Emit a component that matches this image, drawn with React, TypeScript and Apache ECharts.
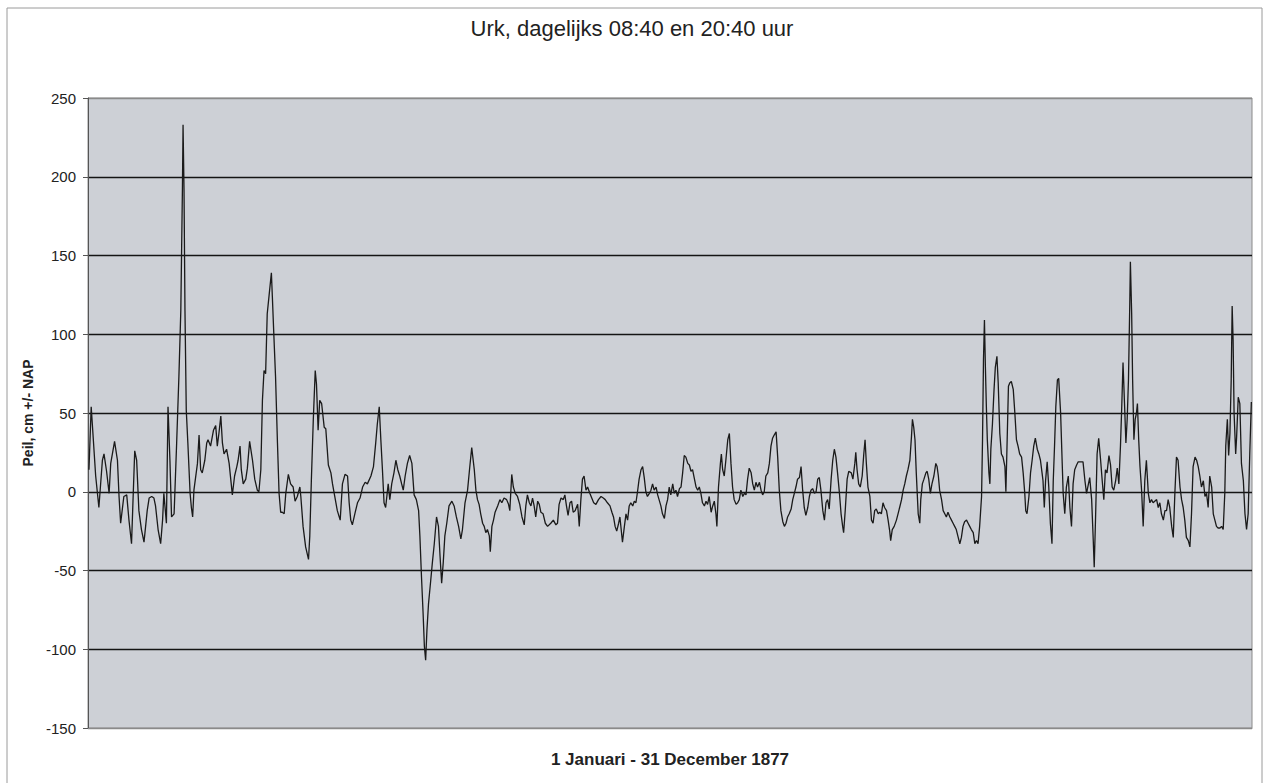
import React, { useEffect, useRef } from "react";
import * as echarts from "echarts";

const titleText = "Urk, dagelijks 08:40 en 20:40 uur";
const xAxisTitle = "1 Januari - 31 December 1877";
const yAxisTitle = "Peil, cm +/- NAP";
const yTicks = [-150, -100, -50, 0, 50, 100, 150, 200, 250];

// day of year (1877) of each read-off observation
const days = [
  1.0, 1.7, 3.1, 4.1, 5.2, 5.7, 6.5, 7.3, 7.8, 9.0, 9.9, 10.4, 10.9, 11.9, 12.8, 13.5, 14.3, 15.3, 15.9, 16.6,
  17.4, 18.2, 19.2, 19.8, 20.6, 21.3, 21.8, 22.6, 23.4, 24.0, 24.4, 25.2, 25.7, 26.3, 26.8, 27.6, 28.4, 29.1, 29.7, 30.2,
  30.4, 30.7, 31.0, 31.4, 31.9, 32.6, 33.0, 33.4, 33.8, 34.9, 35.4, 35.9, 36.4, 37.2, 37.8, 38.2, 39.0, 39.9, 40.6, 41.1,
  41.6, 42.2, 42.7, 43.2, 44.0, 44.8, 45.3, 45.8, 46.5, 47.2, 47.6, 48.2, 48.6, 49.2, 50.0, 50.5, 51.2, 52.1, 52.8, 53.6,
  54.1, 54.7, 55.2, 55.7, 56.2, 56.7, 57.3, 58.0, 58.3, 58.8, 59.3, 59.9, 60.4, 60.9,
  61.4, 62.0, 62.5, 63.3, 64.0, 64.8, 65.4, 66.1, 66.9, 67.2, 67.9, 68.7, 69.6, 70.0, 70.5, 71.1, 71.7, 72.1, 72.6, 73.1,
  73.7, 74.5, 75.0, 75.8, 76.6, 77.1, 77.8, 78.6, 79.5, 80.2, 81.0, 81.8, 82.3, 82.8, 83.3, 84.2, 84.9, 85.7, 86.5, 87.3,
  88.0, 89.1, 89.9, 90.6, 91.1, 91.7, 92.2, 92.7, 93.2, 93.7, 94.5, 95.0, 95.6, 96.3, 96.9, 97.5, 98.1, 98.7, 99.2, 99.8,
  100.5, 101.2, 101.9, 102.6, 103.3, 104.0, 104.4, 104.9, 105.4, 105.8, 106.2, 106.6, 107.1, 107.8, 108.3, 108.9, 109.6, 110.2, 110.7, 111.2,
  111.7, 112.2, 112.8, 113.5, 114.4, 115.1, 115.8, 116.5, 117.2, 117.7, 118.5, 119.3, 120.0,
  120.6, 121.4, 121.9, 122.4, 122.9, 123.4, 124.0, 124.5, 125.0, 125.5, 126.1, 126.4, 126.9, 127.4, 127.9, 128.7, 129.4, 130.0, 130.7, 131.5,
  132.1, 132.5, 133.1, 133.6, 134.2, 134.9, 135.6, 136.3, 137.0, 137.5, 138.0, 138.6, 139.1, 139.6, 140.1, 140.6, 141.2, 141.7, 142.2, 142.9,
  143.6, 144.3, 145.3, 146.1, 146.9, 147.4, 147.9, 148.5, 149.2, 149.7, 150.2, 150.7, 151.3, 151.8, 152.3, 152.9, 153.7, 154.2, 154.7, 155.2,
  155.7, 156.3, 156.8, 157.5, 158.1, 158.7, 159.4, 160.2, 161.0, 161.7, 162.3, 163.0, 163.8, 164.4, 164.9, 165.4, 165.9, 166.5, 166.9, 167.4,
  167.7, 168.3, 168.8, 169.3, 169.8, 170.3, 170.9, 171.4, 171.9, 172.4, 172.9, 173.5, 174.0, 174.5, 175.0, 175.5, 176.1, 176.6, 177.1, 177.6,
  178.2, 178.7,
  179.7, 180.2, 180.8, 181.3, 181.8, 182.3, 182.8, 183.4, 183.9, 184.4, 184.9, 185.5, 186.0, 186.5, 187.0, 187.5, 188.1, 188.6, 189.1, 189.6,
  190.1, 190.7, 191.2, 191.7, 192.2, 192.7, 193.3, 193.8, 194.3, 194.8, 195.4, 195.9, 196.4, 196.9, 197.2, 197.7, 198.3, 198.6, 199.0, 199.5,
  200.0, 200.6, 201.1, 201.6, 202.1, 202.6, 203.2, 203.7, 204.2, 204.7, 205.3, 205.8, 206.3, 206.8, 207.3, 207.9, 208.4, 208.9, 209.4, 209.9,
  210.5, 211.0, 211.5, 212.0, 212.5, 213.1, 213.6, 214.1, 214.6, 215.1, 215.7, 216.2, 216.7, 217.2, 217.8, 218.3, 218.8, 219.3, 219.8, 220.4,
  220.9, 221.4, 221.9, 222.4, 223.0, 223.5, 224.0, 224.5, 225.0, 225.6, 226.1, 226.6, 227.1, 227.7, 228.2, 228.7, 229.2, 229.7, 230.3, 230.8,
  231.3, 231.8, 232.3, 232.9, 233.4, 233.9, 234.4, 234.9, 235.5, 236.0, 236.5, 236.8, 237.3, 237.9, 238.4,
  239.2, 239.7, 240.3, 240.6, 241.0, 241.5, 242.0, 242.6, 243.1, 243.5, 243.9, 244.4, 245.0, 245.5, 246.0, 246.5, 247.0, 247.6, 248.1, 248.6,
  249.1, 249.6, 250.2, 250.7, 251.2, 251.5, 252.0, 252.6, 253.3, 253.8, 254.3, 254.9, 255.4, 255.9, 256.4, 256.9, 257.5, 258.0, 258.3, 258.7,
  259.1, 259.5, 260.1, 260.6, 260.9, 261.4, 261.9, 262.5, 262.9, 263.4, 263.9, 264.4, 265.0, 265.6, 266.0, 266.4, 266.8, 267.4, 267.9, 268.4,
  268.9, 269.4, 270.0, 270.5, 271.0, 271.5, 272.0, 272.6, 273.1, 273.6, 274.1, 274.6, 275.2, 275.7, 276.2, 276.7, 277.3, 277.8, 278.3, 278.8,
  279.3, 279.9, 280.2, 280.5, 280.8, 281.1, 281.4, 281.7, 282.2, 282.5, 282.8, 283.3, 283.8, 284.2, 284.7, 285.1, 285.6, 286.1, 286.6, 287.2,
  287.5, 287.9, 288.3, 288.7, 289.2, 289.8, 290.3, 290.8, 291.3, 291.8, 292.4, 292.9, 293.4, 293.7, 294.1, 294.7, 295.2, 295.7, 296.2, 296.7,
  297.3, 297.8, 298.3, 298.8,
  299.1, 299.5, 299.9, 300.4, 300.9, 301.4, 301.9, 302.3, 302.7, 303.1, 303.6, 304.0, 304.6, 305.1, 305.4, 305.9, 306.4, 307.0, 307.5, 308.0,
  308.5, 309.0, 309.6, 310.1, 310.6, 311.1, 311.6, 312.2, 312.7, 313.2, 313.7, 314.3, 314.8, 315.1, 315.5, 316.0, 316.5, 317.1, 317.6, 318.1,
  318.6, 319.1, 319.7, 320.2, 320.7, 321.2, 321.8, 322.3, 322.8, 323.3, 323.7, 324.1, 324.6, 325.0, 325.4, 325.8, 326.2, 326.4, 326.8, 327.1,
  327.5, 327.9, 328.3, 328.6, 329.0, 329.4, 329.9, 330.4, 330.9, 331.4, 332.0, 332.5, 333.0, 333.5, 334.0, 334.6, 335.1, 335.6, 336.1, 336.7,
  337.2, 337.7, 338.2, 338.7, 339.3, 339.8, 340.3, 340.8, 341.3, 341.9, 342.4, 342.9, 343.4, 343.9, 344.5, 345.0, 345.5, 346.0, 346.6, 347.1,
  347.6, 348.1, 348.6, 349.2, 349.7, 350.2, 350.7, 351.2, 351.8, 352.3, 352.8, 353.3, 353.8, 354.4, 354.9, 355.4, 355.9, 356.2, 356.7, 357.1,
  357.5, 357.9, 358.2, 358.5, 358.8, 359.3, 359.6, 360.1, 360.6, 361.1, 361.7, 362.2, 362.7, 363.2, 363.7, 364.2,
];

// water level, cm relative to NAP
const levels = [
  14, 54, 10, -10, 20, 24, 13, -1, 18, 32, 20, -3, -20, -3, -2, -18, -33, 26, 20, -12,
  -24, -32, -12, -4, -3, -4, -9, -24, -33, -18, -1, -20, 54, 20, -16, -14, 31, 73, 115, 192,
  233, 192, 115, 52, 31, -1, -10, -16, 1, 18, 36, 14, 12, 20, 31, 33, 29, 39, 42, 29,
  37, 48, 31, 24, 27, 18, 8, -2, 10, 16, 20, 29, 14, 5, 8, 15, 32, 20, 8, 1,
  0, 14, 58, 77, 75, 113, 125, 139, 124, 98, 73, 31, -1, -13,
  -13, -14, -1, 11, 5, 3, -6, -3, 3, -3, -22, -35, -43, -28, 8, 46, 77, 68, 39, 58,
  56, 41, 40, 17, 12, 5, -3, -12, -18, 5, 11, 10, -7, -18, -21, -13, -7, -4, 3, 6,
  5, 10, 16, 31, 43, 54, 33, 14, -7, -10, 5, -5, 5, 12, 20, 14, 10, 5, 1, 10,
  18, 23, 18, -2, -5, -12, -28, -54, -77, -98, -107, -88, -71, -56, -45, -33, -16, -22, -41, -58,
  -45, -28, -20, -9, -6, -9, -16, -22, -30, -24, -7, 1, 16,
  28, 14, 1, -5, -8, -14, -20, -22, -26, -24, -28, -38, -22, -18, -13, -9, -5, -7, -4, -5,
  -8, -12, 11, 3, -1, -3, -8, -16, -21, -9, -2, -7, -9, -4, -9, -16, -6, -8, -13, -14,
  -20, -22, -20, -18, -21, -20, -8, -4, -5, -2, -9, -15, -7, -6, -13, -12, -8, -22, -5, 8,
  10, 1, 3, -1, -4, -7, -8, -5, -3, -4, -5, -7, -9, -13, -16, -22, -25, -20, -16, -26,
  -32, -22, -14, -18, -9, -7, -9, -6, -7, 0, 8, 14, 16, 9, 0, -3, -1, 1, 5, 1,
  3, -2,
  -9, -14, -17, -9, -5, 3, -2, 5, -1, 1, -3, 2, 3, 12, 23, 22, 18, 17, 13, 14,
  9, 3, 1, 3, -1, -7, -9, -6, -8, -3, -13, -9, -6, -14, -22, 3, 18, 24, 14, 10,
  20, 33, 37, 18, 3, -5, -8, -7, -5, 1, -3, -1, -2, 8, 15, 12, 5, 1, 6, 3,
  6, 1, -2, 0, 10, 12, 18, 29, 34, 36, 38, 22, 1, -12, -19, -22, -20, -16, -14, -11,
  -5, -1, 3, 8, 9, 16, 1, -10, -15, -10, -3, 1, 2, -1, 0, 8, 9, 1, -12, -18,
  -7, -5, -11, 8, 20, 27, 22, 12, -1, -14, -22, -26, -12, 8, 13,
  12, 8, 18, 25, 14, 5, 3, 10, 24, 33, 18, 3, -3, -18, -20, -12, -11, -14, -13, -14,
  -7, -10, -12, -18, -25, -31, -24, -22, -18, -14, -10, -5, 1, 5, 10, 14, 20, 35, 46, 41,
  33, 12, -14, -20, -5, 5, 8, 12, 13, 8, -1, 5, 10, 18, 16, 10, 1, -5, -12, -14,
  -16, -13, -16, -18, -20, -22, -24, -29, -33, -29, -22, -19, -18, -20, -22, -24, -26, -33, -31, -33,
  -22, -3, 33, 84, 109, 79, 54, 33, 12, 5, 27, 43, 65, 79, 86, 69, 37, 24, 22, 16,
  0, 33, 67, 69, 70, 65, 50, 33, 29, 24, 22, 12, -1, -12, -14, -3, 12, 20, 29, 34,
  27, 24, 20, 12,
  7, -10, 7, 19, 3, -20, -33, 7, 29, 54, 71, 72, 50, 18, -1, -14, 3, 10, -10, -22,
  5, 14, 17, 19, 19, 19, 19, 7, -1, 4, 9, -5, -31, -48, -18, 24, 34, 20, 7, -5,
  14, 12, 23, 17, 3, 1, 7, 15, 5, 29, 54, 82, 54, 31, 46, 71, 118, 146, 113, 71,
  33, 46, 50, 56, 33, 16, 1, -22, 7, 20, -1, -7, -5, -7, -6, -5, -10, -7, -14, -18,
  -12, -12, -5, -10, -22, -29, -1, 22, 20, 3, -5, -10, -18, -29, -31, -35, -14, 16, 22, 20,
  16, 10, 3, 7, -3, -1, -10, 10, 3, -14, -18, -22, -23, -23, -22, -24, -1, 29, 46, 23,
  37, 71, 118, 96, 50, 24, 35, 60, 56, 18, 7, -14, -24, -14, 24, 57,
];

export default function App() {
  const ref = useRef<HTMLDivElement>(null);

  useEffect(() => {
    if (!ref.current) return;
    const chart = echarts.init(ref.current, undefined, { renderer: "svg" });
    const data = days.map((d, i) => [d, levels[i]]);
    const lineColors = yTicks.map((t, i) => (i === 0 || i === yTicks.length - 1 ? "#8a8a8a" : "#141414"));
    chart.setOption({
      animation: false,
      backgroundColor: "#ffffff",
      textStyle: { fontFamily: "Liberation Sans, Arial, sans-serif" },
      title: {
        text: titleText,
        left: "center",
        top: 12,
        textStyle: { fontSize: 22, fontWeight: "normal", color: "#222", fontFamily: "Liberation Sans, Arial, sans-serif" },
      },
      graphic: [
        {
          type: "rect",
          shape: { x: 7, y: 8, width: 1255, height: 800 },
          style: { fill: "none", stroke: "#9a9a9a", lineWidth: 1 },
          silent: true,
        },
      ],
      grid: {
        left: 88,
        right: 12,
        top: 98,
        bottom: 55,
        show: true,
        backgroundColor: "#cdd0d6",
        borderColor: "#8a8a8a",
        borderWidth: 1,
      },
      xAxis: {
        type: "value",
        min: 0.7,
        max: 364.4,
        name: xAxisTitle,
        nameLocation: "middle",
        nameGap: 23,
        nameTextStyle: { fontSize: 17, fontWeight: "bold", color: "#222" },
        axisLine: { show: true, onZero: false, lineStyle: { color: "#8a8a8a" } },
        axisTick: { show: false },
        axisLabel: { show: false },
        splitLine: { show: false },
      },
      yAxis: {
        type: "value",
        min: -150,
        max: 250,
        interval: 50,
        name: yAxisTitle,
        nameLocation: "middle",
        nameGap: 48,
        nameRotate: 90,
        nameTextStyle: { fontSize: 14, fontWeight: "bold", color: "#222" },
        axisLine: { show: true, onZero: false, lineStyle: { color: "#555" } },
        axisTick: { show: true, length: 5, lineStyle: { color: "#555" } },
        axisLabel: { fontSize: 15, color: "#222", margin: 12 },
        splitLine: { show: true, lineStyle: { color: lineColors, width: 1.4 } },
      },
      series: [
        {
          type: "line",
          data,
          showSymbol: false,
          symbol: "none",
          lineStyle: { color: "#1a1a1a", width: 1.3 },
          z: 3,
        },
      ],
    });
    return () => chart.dispose();
  }, []);

  return <div ref={ref} style={{ position: "absolute", left: 0, top: 0, width: 1264, height: 783 }} />;
}
